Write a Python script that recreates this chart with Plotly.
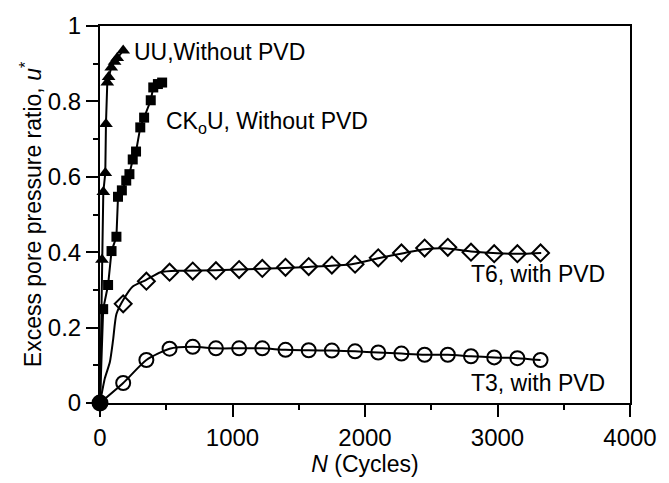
import plotly.graph_objects as go

# UU, without PVD (triangles)
uu_n = [0, 15, 25, 40, 45, 55, 65, 85, 110, 130, 175]
uu_u = [0, 0.38, 0.56, 0.61, 0.74, 0.85, 0.865, 0.89, 0.905, 0.915, 0.935]

# CKoU, without PVD (squares)
ck_n = [0, 24, 61, 87, 124, 136, 165, 198, 222, 247, 272, 304, 333, 383, 402, 437, 469]
ck_u = [0, 0.249, 0.313, 0.403, 0.441, 0.547, 0.564, 0.590, 0.607, 0.646, 0.667,
        0.731, 0.757, 0.803, 0.837, 0.846, 0.850]

# T6 with PVD (diamonds) markers
t6_n = [175, 350, 525, 700, 875, 1050, 1225, 1400, 1575, 1750, 1925, 2100, 2275,
        2450, 2625, 2800, 2975, 3150, 3325]
t6_u = [0.263, 0.323, 0.347, 0.350, 0.351, 0.354, 0.357, 0.360, 0.362, 0.366, 0.368,
        0.385, 0.398, 0.411, 0.413, 0.400, 0.396, 0.396, 0.398]
# T6 measured curve
t6_line_n = [0, 37, 74, 99, 124, 185, 247, 346, 457, 605, 870, 1220, 1570, 1900, 2100,
             2300, 2450, 2620, 2800, 3000, 3200, 3330]
t6_line_u = [0, 0.066, 0.108, 0.168, 0.236, 0.279, 0.309, 0.326, 0.347, 0.351, 0.352,
             0.356, 0.361, 0.368, 0.384, 0.398, 0.408, 0.410, 0.402, 0.397, 0.396, 0.398]

# T3 with PVD (circles)
t3_n = [0, 175, 350, 525, 700, 875, 1050, 1225, 1400, 1575, 1750, 1925, 2100, 2275,
        2450, 2625, 2800, 2975, 3150, 3325]
t3_u = [0, 0.053, 0.114, 0.144, 0.149, 0.145, 0.145, 0.145, 0.141, 0.140, 0.139, 0.137,
        0.134, 0.131, 0.128, 0.128, 0.124, 0.121, 0.119, 0.114]

FONT = "Liberation Sans, Arial, sans-serif"
fig = go.Figure()

fig.add_trace(go.Scatter(x=t6_line_n, y=t6_line_u, mode="lines", cliponaxis=False,
                         line=dict(color="black", width=2, shape="spline", smoothing=0.6), showlegend=False))
fig.add_trace(go.Scatter(x=t6_n, y=t6_u, mode="markers", cliponaxis=False,
                         marker=dict(symbol="diamond-open", size=13, color="black", opacity=1,
                                     line=dict(width=2, color="black")), showlegend=False))
fig.add_trace(go.Scatter(x=t3_n, y=t3_u, mode="lines+markers", cliponaxis=False,
                         line=dict(color="black", width=2, shape="spline", smoothing=0.6),
                         marker=dict(symbol=["circle"] + ["circle-open"] * (len(t3_n) - 1),
                                     size=[15] + [14] * (len(t3_n) - 1), opacity=1,
                                     color="black", line=dict(width=2, color="black")), showlegend=False))
fig.add_trace(go.Scatter(x=ck_n, y=ck_u, mode="lines+markers", cliponaxis=False, line=dict(color="black", width=2),
                         marker=dict(symbol="square", size=10, color="black", opacity=1), showlegend=False))
fig.add_trace(go.Scatter(x=uu_n, y=uu_u, mode="lines+markers", cliponaxis=False, line=dict(color="black", width=2),
                         marker=dict(symbol="triangle-up", size=12, color="black", opacity=1), showlegend=False))

ann = dict(font=dict(family=FONT, size=23, color="black"), showarrow=False, xref="x", yref="y")
fig.add_annotation(x=240, y=0.93, text="UU,Without PVD", xanchor="left", yanchor="middle", **ann)
fig.add_annotation(x=480, y=0.745, text="CK<sub>o</sub>U, Without PVD", xanchor="left", yanchor="middle", **ann)
fig.add_annotation(x=3830, y=0.343, text="T6, with PVD", xanchor="right", yanchor="middle", **ann)
fig.add_annotation(x=3830, y=0.053, text="T3, with PVD", xanchor="right", yanchor="middle", **ann)

axis_common = dict(showgrid=False, zeroline=False, showline=True, linecolor="black", linewidth=2,
                   mirror=True, ticks="outside", ticklen=12, tickwidth=2, tickcolor="black",
                   tickfont=dict(family=FONT, size=24, color="black"))
fig.update_xaxes(range=[0, 4000], tickvals=[0, 1000, 2000, 3000, 4000],
                 minor=dict(ticks="outside", ticklen=5, tickwidth=2, tickcolor="black", dtick=500, tick0=0),
                 title=dict(text="<i>N</i> (Cycles)", font=dict(family=FONT, size=23, color="black"), standoff=4),
                 **axis_common)
fig.update_yaxes(range=[0, 1], tickvals=[0, 0.2, 0.4, 0.6, 0.8, 1], ticktext=["0", "0.2", "0.4", "0.6", "0.8", "1"],
                 minor=dict(ticks="outside", ticklen=5, tickwidth=2, tickcolor="black", dtick=0.1, tick0=0),
                 title=dict(text="Excess pore pressure ratio, <i>u</i><sup>*</sup>", font=dict(family=FONT, size=23, color="black"), standoff=0),
                 **axis_common)

fig.update_layout(width=669, height=483, margin=dict(l=100, r=28, t=15, b=77),
                  plot_bgcolor="white", paper_bgcolor="white", showlegend=False)
fig.write_html("out.html")
